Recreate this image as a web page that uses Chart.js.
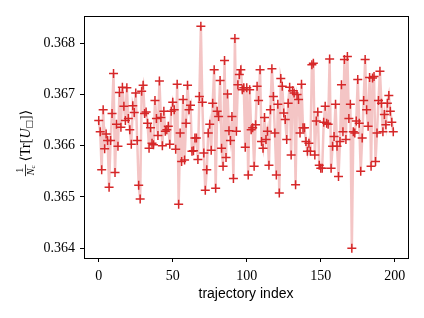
<!DOCTYPE html>
<html>
<head>
<meta charset="utf-8">
<script src="https://cdn.jsdelivr.net/npm/chart.js@4/dist/chart.umd.min.js"></script>
<style>
  html, body { margin: 0; padding: 0; background: #fff; }
  #wrap { width: 424px; height: 318px; }
</style>
</head>
<body>
<div id="wrap"><canvas id="chart-plaquette" width="424" height="318"></canvas></div>
<script>
// valores (média da plaqueta por trajetória)
const plaquette = [
  0.36649, 0.36627, 0.36553, 0.36670, 0.36594, 0.36623, 0.36610, 0.36519, 0.36610, 0.36663,
  0.36741, 0.36548, 0.36642, 0.36599, 0.36704, 0.36636, 0.36714, 0.36677, 0.36649, 0.36713,
  0.36653, 0.36631, 0.36603, 0.36678, 0.36665, 0.36703, 0.36610, 0.36523, 0.36496, 0.36706,
  0.36718, 0.36663, 0.36666, 0.36644, 0.36595, 0.36635, 0.36605, 0.36602, 0.36688, 0.36653,
  0.36620, 0.36726, 0.36655, 0.36600, 0.36667, 0.36628, 0.36631, 0.36638, 0.36603, 0.36667,
  0.36685, 0.36670, 0.36593, 0.36720, 0.36486, 0.36625, 0.36569, 0.36690, 0.36572, 0.36644,
  0.36718, 0.36670, 0.36679, 0.36589, 0.36590, 0.36615, 0.36615, 0.36573, 0.36696, 0.36833,
  0.36685, 0.36586, 0.36513, 0.36553, 0.36625, 0.36642, 0.36591, 0.36683, 0.36748, 0.36517,
  0.36667, 0.36657, 0.36727, 0.36595, 0.36560, 0.36766, 0.36577, 0.36701, 0.36629, 0.36610,
  0.36657, 0.36536, 0.36809, 0.36628, 0.36719, 0.36739, 0.36748, 0.36709, 0.36713, 0.36597,
  0.36713, 0.36543, 0.36709, 0.36631, 0.36635, 0.36560, 0.36641, 0.36716, 0.36688, 0.36748,
  0.36608, 0.36595, 0.36655, 0.36612, 0.36628, 0.36562, 0.36670, 0.36750, 0.36696, 0.36625,
  0.36543, 0.36681, 0.36508, 0.36731, 0.36716, 0.36664, 0.36651, 0.36612, 0.36683, 0.36714,
  0.36582, 0.36707, 0.36703, 0.36524, 0.36700, 0.36690, 0.36625, 0.36720, 0.36635, 0.36635,
  0.36608, 0.36589, 0.36605, 0.36589, 0.36758, 0.36761, 0.36582, 0.36648, 0.36666, 0.36562,
  0.36556, 0.36556, 0.36646, 0.36677, 0.36644, 0.36642, 0.36769, 0.36556, 0.36599, 0.36618,
  0.36681, 0.36599, 0.36540, 0.36608, 0.36719, 0.36627, 0.36768, 0.36612, 0.36774, 0.36653,
  0.36681, 0.36400, 0.36627, 0.36625, 0.36648, 0.36729, 0.36644, 0.36550, 0.36615, 0.36688,
  0.36768, 0.36670, 0.36638, 0.36733, 0.36560, 0.36732, 0.36735, 0.36569, 0.36625, 0.36688,
  0.36745, 0.36683, 0.36627, 0.36661, 0.36641, 0.36683, 0.36698, 0.36667, 0.36646, 0.36627
];
const trajectoryIndex = plaquette.map((_, i) => i);
const xTicks = [0, 50, 100, 150, 200];
const yTicks = [0.364, 0.365, 0.366, 0.367, 0.368];

const serif = '"Liberation Serif", "DejaVu Serif", serif';

// moldura completa (estilo matplotlib)
const framePlugin = {
    id: 'frame',
    afterDraw(chart) {
        const { ctx, chartArea: a } = chart;
        ctx.save();
        ctx.strokeStyle = '#000';
        ctx.lineWidth = 1;
        ctx.strokeRect(a.left + 0.5, a.top + 0.5, a.right - a.left, a.bottom - a.top);
        ctx.restore();
    }
};

// rótulo do eixo y: (1/N_c) <Tr[U_□]>
const yLabelPlugin = {
    id: 'yLabel',
    afterDraw(chart) {
        const ctx = chart.ctx;
        ctx.save();
        ctx.translate(26, 143);
        ctx.rotate(-Math.PI / 2);
        ctx.fillStyle = '#000';
        ctx.textBaseline = 'middle';

        const small = '10px ' + serif, smallIt = 'italic 10px ' + serif, tiny = '7px ' + serif;
        const big = '14px ' + serif, bigIt = 'italic 14px ' + serif, sub = '9px "DejaVu Sans", sans-serif';
        const w = (f, t) => { ctx.font = f; return ctx.measureText(t).width; };

        const fw = Math.max(w(small, '1'), w(smallIt, 'N') + w(tiny, 'c')) + 2;
        const pieces = [
            [big, '\u27E8Tr[', 0], [bigIt, 'U', 0], [sub, '\u25A1', 4], [big, ']\u27E9', 0]
        ];
        const mainW = pieces.reduce((s, p) => s + w(p[0], p[1]), 0);
        let x = -(fw + 3 + mainW) / 2;

        // fração
        ctx.textAlign = 'center';
        ctx.font = small;
        ctx.fillText('1', x + fw / 2, -6);
        ctx.fillRect(x, -1, fw, 0.8);
        const nw = w(smallIt, 'N'), cw = w(tiny, 'c');
        ctx.textAlign = 'left';
        ctx.font = smallIt;
        ctx.fillText('N', x + (fw - nw - cw) / 2, 5);
        ctx.font = tiny;
        ctx.fillText('c', x + (fw - nw - cw) / 2 + nw, 7);
        x += fw + 3;

        pieces.forEach(([f, t, dy]) => {
            ctx.font = f;
            ctx.fillText(t, x, dy);
            x += ctx.measureText(t).width;
        });
        ctx.restore();
    }
};

document.addEventListener('DOMContentLoaded', () => {
    const ctx = document.getElementById('chart-plaquette').getContext('2d');
    new Chart(ctx, {
        type: 'line',
        data: {
            datasets: [{
                data: trajectoryIndex.map((t, i) => ({ x: t, y: plaquette[i] })),
                borderColor: 'rgba(214,39,40,0.27)',
                borderWidth: 2.5,
                pointStyle: 'cross',
                pointRadius: 4.5,
                pointBorderWidth: 1.5,
                pointBorderColor: '#d62728',
                pointBackgroundColor: '#d62728',
                tension: 0
            }]
        },
        options: {
            responsive: false,
            animation: false,
            devicePixelRatio: 1,
            layout: { padding: { left: 0, right: 16, top: 16, bottom: 0 } },
            plugins: { legend: { display: false }, tooltip: { enabled: false } },
            scales: {
                x: {
                    type: 'linear',
                    min: -9.95,
                    max: 208.95,
                    afterBuildTicks: s => { s.ticks = xTicks.map(v => ({ value: v })); },
                    afterFit: s => { s.height = 60; },
                    grid: { drawOnChartArea: false, drawTicks: true, tickLength: 4, color: '#000' },
                    border: { display: true, color: '#000' },
                    ticks: { color: '#000', padding: 6, maxRotation: 0, font: { family: serif, size: 14 } },
                    title: {
                        display: true,
                        text: 'trajectory index',
                        color: '#000',
                        font: { family: '"Liberation Sans", Arial, sans-serif', size: 14 },
                        padding: { top: 0, bottom: 15 }
                    }
                },
                y: {
                    min: 0.36381,
                    max: 0.36853,
                    afterBuildTicks: s => { s.ticks = yTicks.map(v => ({ value: v })); },
                    afterFit: s => { s.width = 84; },
                    grid: { drawOnChartArea: false, drawTicks: true, tickLength: 4, color: '#000' },
                    border: { display: true, color: '#000' },
                    ticks: {
                        color: '#000',
                        padding: 5,
                        font: { family: serif, size: 14 },
                        callback: v => v.toFixed(3)
                    }
                }
            }
        },
        plugins: [framePlugin, yLabelPlugin]
    });
});
</script>
</body>
</html>
